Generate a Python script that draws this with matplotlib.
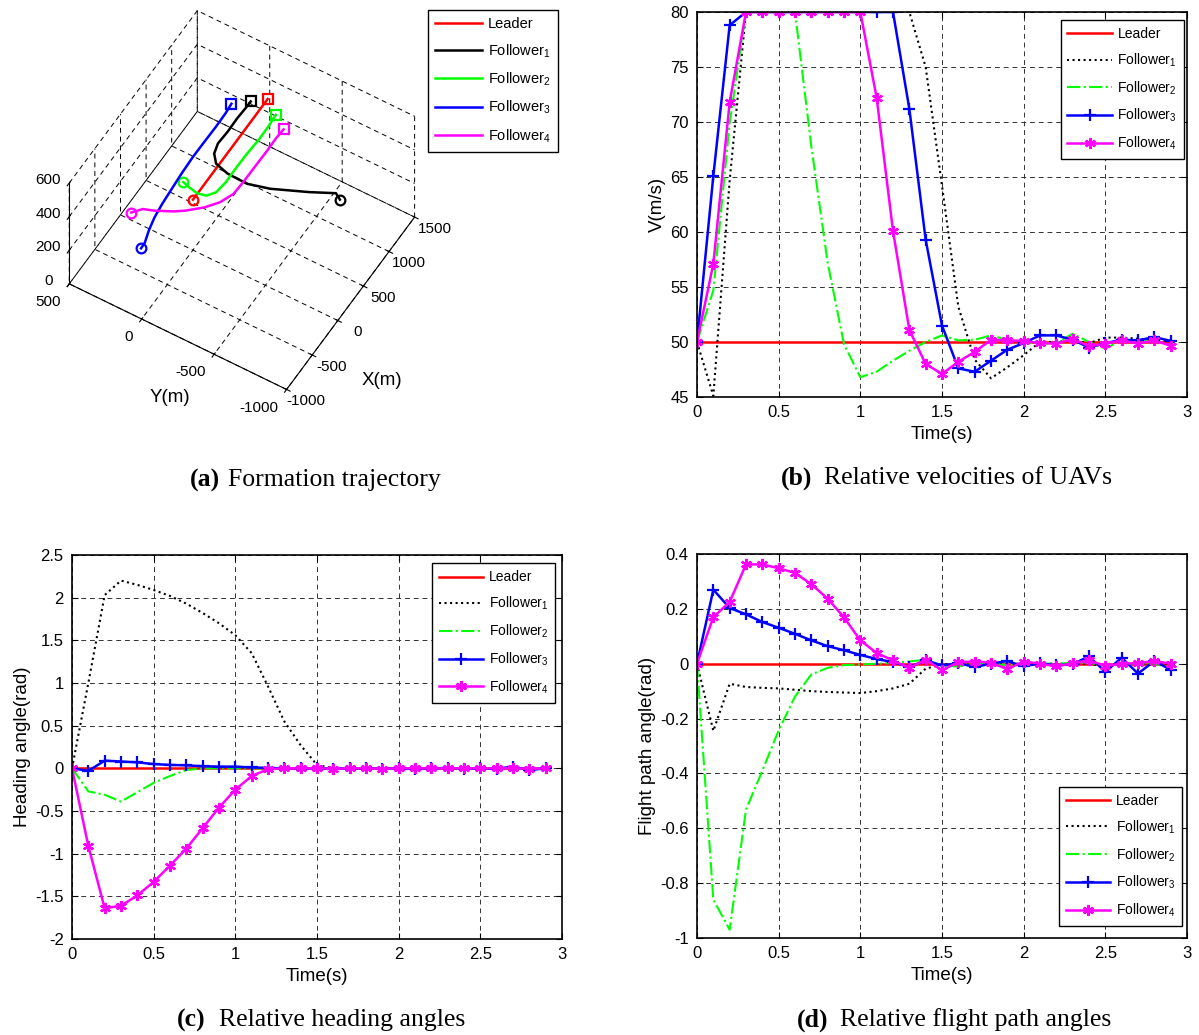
import matplotlib
matplotlib.use('Agg')
import matplotlib.pyplot as plt

plt.rcParams['font.family'] = ['Liberation Sans', 'DejaVu Sans']
plt.rcParams['mathtext.default'] = 'regular'
plt.rcParams['axes.unicode_minus'] = False

# ---- time axis shared by panels b, c, d
time = [0.0, 0.1, 0.2, 0.3, 0.4, 0.5, 0.6, 0.7, 0.8, 0.9,
        1.0, 1.1, 1.2, 1.3, 1.4, 1.5, 1.6, 1.7, 1.8, 1.9,
        2.0, 2.1, 2.2, 2.3, 2.4, 2.5, 2.6, 2.7, 2.8, 2.9]

# ---- (b) velocities
v_lead = [50.0] * 30
v_f1 = [50, 45.1, 64.7, 80, 80, 80, 80, 80, 80, 80, 80, 80, 80, 80, 75.0,
        64.2, 53.2, 48.4, 46.7, 47.7, 48.8, 50.0, 50.0, 50.15, 49.9, 50.4, 50.4, 50.3, 50.2, 50.1]
v_f2 = [50, 54.7, 69.9, 80, 80, 80, 80, 67.8, 57.2, 49.8, 46.8, 47.3, 48.3, 49.2, 50.0,
        50.6, 50.15, 50.2, 50.6, 50.2, 50.0, 49.85, 49.9, 50.75, 50.0, 49.4, 50.15, 50.0, 50.15, 49.7]
v_f3 = [50, 65.1, 78.8, 80, 80, 80, 80, 80, 80, 80, 80, 80, 80, 71.2, 59.3,
        51.5, 47.6, 47.3, 48.3, 49.3, 49.9, 50.6, 50.6, 50.2, 49.5, 49.9, 50.2, 50.15, 50.45, 50.1]
v_f4 = [50, 57.1, 71.8, 80, 80, 80, 80, 80, 80, 80, 80, 72.2, 60.1, 51.1, 48.0,
        47.1, 48.2, 49.1, 50.2, 50.15, 50.1, 49.9, 49.85, 50.3, 49.6, 49.85, 50.15, 49.85, 50.15, 49.65]

# ---- (c) heading angles
h_lead = [0.0] * 30
h_f1 = [0, 1.0, 2.03, 2.20, 2.15, 2.09, 2.02, 1.93, 1.82, 1.70, 1.56, 1.35, 0.96, 0.55, 0.27,
        0.04, 0.0, 0.0, 0.0, 0.0, 0.0, 0.0, 0.0, 0.0, 0.0, 0.0, 0.0, 0.0, 0.0, 0.0]
h_f2 = [0, -0.27, -0.31, -0.39, -0.28, -0.17, -0.09, -0.02, 0.0, 0.0, 0.0, 0.0, 0.0, 0.0, 0.0,
        0.0, 0.0, 0.0, 0.0, 0.0, 0.0, 0.0, 0.0, 0.0, 0.0, 0.0, 0.0, 0.0, 0.0, 0.0]
h_f3 = [0, -0.03, 0.09, 0.08, 0.07, 0.05, 0.04, 0.035, 0.025, 0.02, 0.02, 0.01, 0.005, 0.0, 0.0,
        0.0, -0.005, 0.0, 0.0, -0.005, 0.0, -0.005, 0.0, 0.005, -0.005, 0.0, -0.005, 0.02, -0.02, 0.0]
h_f4 = [0, -0.91, -1.64, -1.61, -1.49, -1.33, -1.14, -0.94, -0.70, -0.46, -0.25, -0.09, -0.01, 0.0, 0.0,
        0.0, -0.005, 0.0, 0.0, -0.005, 0.0, 0.0, 0.0, 0.0, 0.0, 0.0, 0.0, 0.0, -0.005, 0.0]

# ---- (d) flight path angles
g_lead = [0.0] * 30
g_f1 = [0, -0.245, -0.073, -0.085, -0.088, -0.09, -0.095, -0.1, -0.103, -0.105, -0.107, -0.1, -0.09, -0.073, -0.018,
        -0.003, 0.0, -0.005, 0.0, 0.0, 0.0, 0.0, 0.0, 0.0, 0.0, -0.012, 0.0, 0.0, 0.0, 0.0]
g_f2 = [0, -0.86, -0.97, -0.532, -0.39, -0.243, -0.12, -0.039, -0.015, -0.005, -0.003, 0.0, 0.003, 0.008, 0.015,
        -0.008, -0.01, 0.0, 0.0, -0.005, 0.0, 0.0, 0.0, 0.003, 0.005, -0.01, 0.0, 0.0, 0.0, -0.015]
g_f3 = [0, 0.27, 0.203, 0.18, 0.152, 0.131, 0.109, 0.085, 0.064, 0.049, 0.032, 0.017, 0.006, -0.012, 0.012,
        -0.006, 0.002, -0.012, 0.0, 0.01, -0.01, 0.002, -0.006, -0.002, 0.027, -0.03, 0.022, -0.036, 0.01, -0.022]
g_f4 = [0, 0.17, 0.225, 0.362, 0.362, 0.348, 0.331, 0.29, 0.237, 0.169, 0.085, 0.039, 0.012, -0.016, 0.015,
        -0.024, 0.006, 0.008, 0.004, -0.02, 0.008, 0.0, -0.01, 0.002, 0.012, -0.008, 0.0, 0.002, 0.01, 0.0]

# ---- (a) 3-D trajectories (x, y, z in m)
lead_x = [0, 300, 600, 900, 1200, 1460]
lead_y = [0, 0, 0, 0, 0, 0]
lead_z = [300, 300, 300, 300, 300, 300]
f1_x = [762, 810, 682, 517, 450, 457, 504, 602, 729, 903, 1096, 1271, 1346]
f1_y = [-745, -701, -560, -351, -215, -78, 18, 66, 85, 80, 82, 77, 77]
f1_z = [300, 300, 300, 300, 300, 300, 300, 300, 300, 300, 300, 300, 300]
f2_x = [138, 113, 90, 113, 200, 357, 550, 771, 975, 1166, 1334]
f2_y = [115, 66, 4, -54, -90, -101, -99, -101, -108, -107, -101]
f2_z = [300, 300, 300, 300, 300, 300, 300, 300, 300, 300, 300]
f3_x = [-787, -707, -560, -389, -205, 6, 217, 455, 676, 898, 1090, 1221]
f3_y = [80, 82, 107, 128, 140, 148, 156, 161, 160, 158, 160, 166]
f3_z = [300, 300, 300, 300, 300, 300, 300, 300, 300, 300, 300, 300]
f4_x = [-456, -359, -317, -224, -156, -21, 113, 273, 447, 668, 891, 1084, 1219]
f4_y = [264, 219, 154, 53, -3, -88, -147, -184, -189, -190, -192, -190, -195]
f4_z = [300, 300, 300, 300, 300, 300, 300, 300, 300, 300, 300, 300, 300]

names = ['Leader', 'Follower$_1$', 'Follower$_2$', 'Follower$_3$', 'Follower$_4$']
colors = ['#ff0000', '#000000', '#00ff00', '#0000ff', '#ff00ff']
styles = ['-', ':', '-.', '-', '-']
markers = [None, None, None, '+', (6, 2, 0)]

W, H = 1199, 1035
fig = plt.figure(figsize=(W / 100, H / 100), dpi=100)

grid_ls = (0, (5, 4))


def rect(l, t, r, b):
    return [l / W, 1 - b / H, (r - l) / W, (b - t) / H]


def time_panel(pos, series, ylim, yticks, ylabel, leg_anchor, leg_loc):
    ax = fig.add_axes(pos)
    for i, y in enumerate(series):
        ax.plot(time, y, color=colors[i], linestyle=styles[i], lw=1.8 if i in (0, 3, 4) else 1.5,
                marker=markers[i], markersize=8, markeredgewidth=1.6, label=names[i])
    ax.set_xlim(0, 3)
    ax.set_ylim(*ylim)
    ax.set_xticks([0, 0.5, 1, 1.5, 2, 2.5, 3])
    ax.set_xticklabels(['0', '0.5', '1', '1.5', '2', '2.5', '3'])
    ax.set_yticks(yticks)
    ax.set_yticklabels([('%g' % v) for v in yticks])
    ax.grid(True, color='#333333', linestyle=grid_ls, lw=0.7)
    ax.tick_params(direction='in', top=True, right=True, labelsize=12, length=4, pad=6)
    for s in ax.spines.values():
        s.set_linewidth(1.2)
    ax.set_xlabel('Time(s)', fontsize=13.5, labelpad=4)
    ax.set_ylabel(ylabel, fontsize=13.5, labelpad=3)
    leg = ax.legend(loc=leg_loc, bbox_to_anchor=leg_anchor, fontsize=10, frameon=True, fancybox=False,
                    edgecolor='black', framealpha=1, handlelength=3.2, handletextpad=0.4,
                    labelspacing=0.75, borderaxespad=0, borderpad=0.5)
    leg.get_frame().set_linewidth(1.0)
    return ax


time_panel(rect(697, 12, 1187, 397), [v_lead, v_f1, v_f2, v_f3, v_f4], (45, 80),
           [45, 50, 55, 60, 65, 70, 75, 80], 'V(m/s)', (0.994, 0.979), 'upper right')
time_panel(rect(72, 555, 562, 939), [h_lead, h_f1, h_f2, h_f3, h_f4], (-2, 2.5),
           [-2, -1.5, -1, -0.5, 0, 0.5, 1, 1.5, 2, 2.5], 'Heading angle(rad)', (0.986, 0.978), 'upper right')
time_panel(rect(697, 554, 1187, 938), [g_lead, g_f1, g_f2, g_f3, g_f4], (-1, 0.4),
           [-1, -0.8, -0.6, -0.4, -0.2, 0, 0.2, 0.4], 'Flight path angle(rad)', (0.99, 0.031), 'lower right')

# ---- (a) 3-D panel
ax3 = fig.add_axes(rect(1, -14, 471, 426), projection='3d')
ax3.set_proj_type('ortho')
ax3.view_init(elev=54, azim=-149)
ax3.set_box_aspect((1, 1.02, 0.69), zoom=0.87)
trajs = [(lead_x, lead_y, lead_z), (f1_x, f1_y, f1_z), (f2_x, f2_y, f2_z),
         (f3_x, f3_y, f3_z), (f4_x, f4_y, f4_z)]
handles = []
for i, (x, y, z) in enumerate(trajs):
    ln, = ax3.plot(x, y, z, color=colors[i], lw=1.8, label=names[i])
    ax3.plot(x[:1], y[:1], z[:1], 'o', mfc='none', mec=colors[i], ms=7, mew=1.6)
    ax3.plot(x[-1:], y[-1:], z[-1:], 's', mfc='none', mec=colors[i], ms=7, mew=1.6)
    handles.append(ln)
ax3.set_xlim(-1000, 1500)
ax3.set_ylim(-1000, 500)
ax3.set_zlim(0, 600)
ax3.set_xticks([-1000, -500, 0, 500, 1000, 1500])
ax3.set_yticks([-1000, -500, 0, 500])
ax3.set_zticks([0, 200, 400, 600])
for axis in (ax3.xaxis, ax3.yaxis, ax3.zaxis):
    axis.set_pane_color((1, 1, 1, 1))
    axis._axinfo['grid'].update(color='black', linewidth=0.7, linestyle=grid_ls)
    axis._axinfo['axisline']['color'] = 'black'
ax3.xaxis.set_tick_params(labelsize=11, pad=7)
ax3.yaxis.set_tick_params(labelsize=11, pad=3)
ax3.zaxis.set_tick_params(labelsize=11, pad=2)
for t in ax3.get_xticklabels():
    t.set_va('bottom')
for t in ax3.get_yticklabels():
    t.set_ha('right')
    t.set_va('center')
for t in ax3.get_zticklabels():
    t.set_va('bottom')
ax3.grid(True)

fig.text(170 / W, 1 - 398 / H, 'Y(m)', fontsize=13.5, ha='center', va='center')
fig.text(382 / W, 1 - 380 / H, 'X(m)', fontsize=13.5, ha='center', va='center')

leg = fig.legend(handles=handles, loc='upper left', bbox_to_anchor=(428 / W, 1 - 10 / H), fontsize=10.5,
                 fancybox=False, edgecolor='black', framealpha=1, handlelength=3.2, handletextpad=0.4,
                 labelspacing=0.75, borderaxespad=0, borderpad=0.5)
leg.get_frame().set_linewidth(1.0)

# ---- captions
caps = [(220, 480, '(a)', 228, 'Formation trajectory'),
        (812, 478, '(b)', 824, 'Relative velocities of UAVs'),
        (205, 1020, '(c)', 219, 'Relative heading angles'),
        (828, 1020, '(d)', 840, 'Relative flight path angles')]
for xb, yc, tag, xt, txt in caps:
    fig.text(xb / W, 1 - yc / H, tag, fontsize=18.5, fontweight='bold', family='Liberation Serif',
             ha='right', va='center')
    fig.text(xt / W, 1 - yc / H, txt, fontsize=18.5, family='Liberation Serif', ha='left', va='center')

fig.savefig('out.png', dpi=100)
